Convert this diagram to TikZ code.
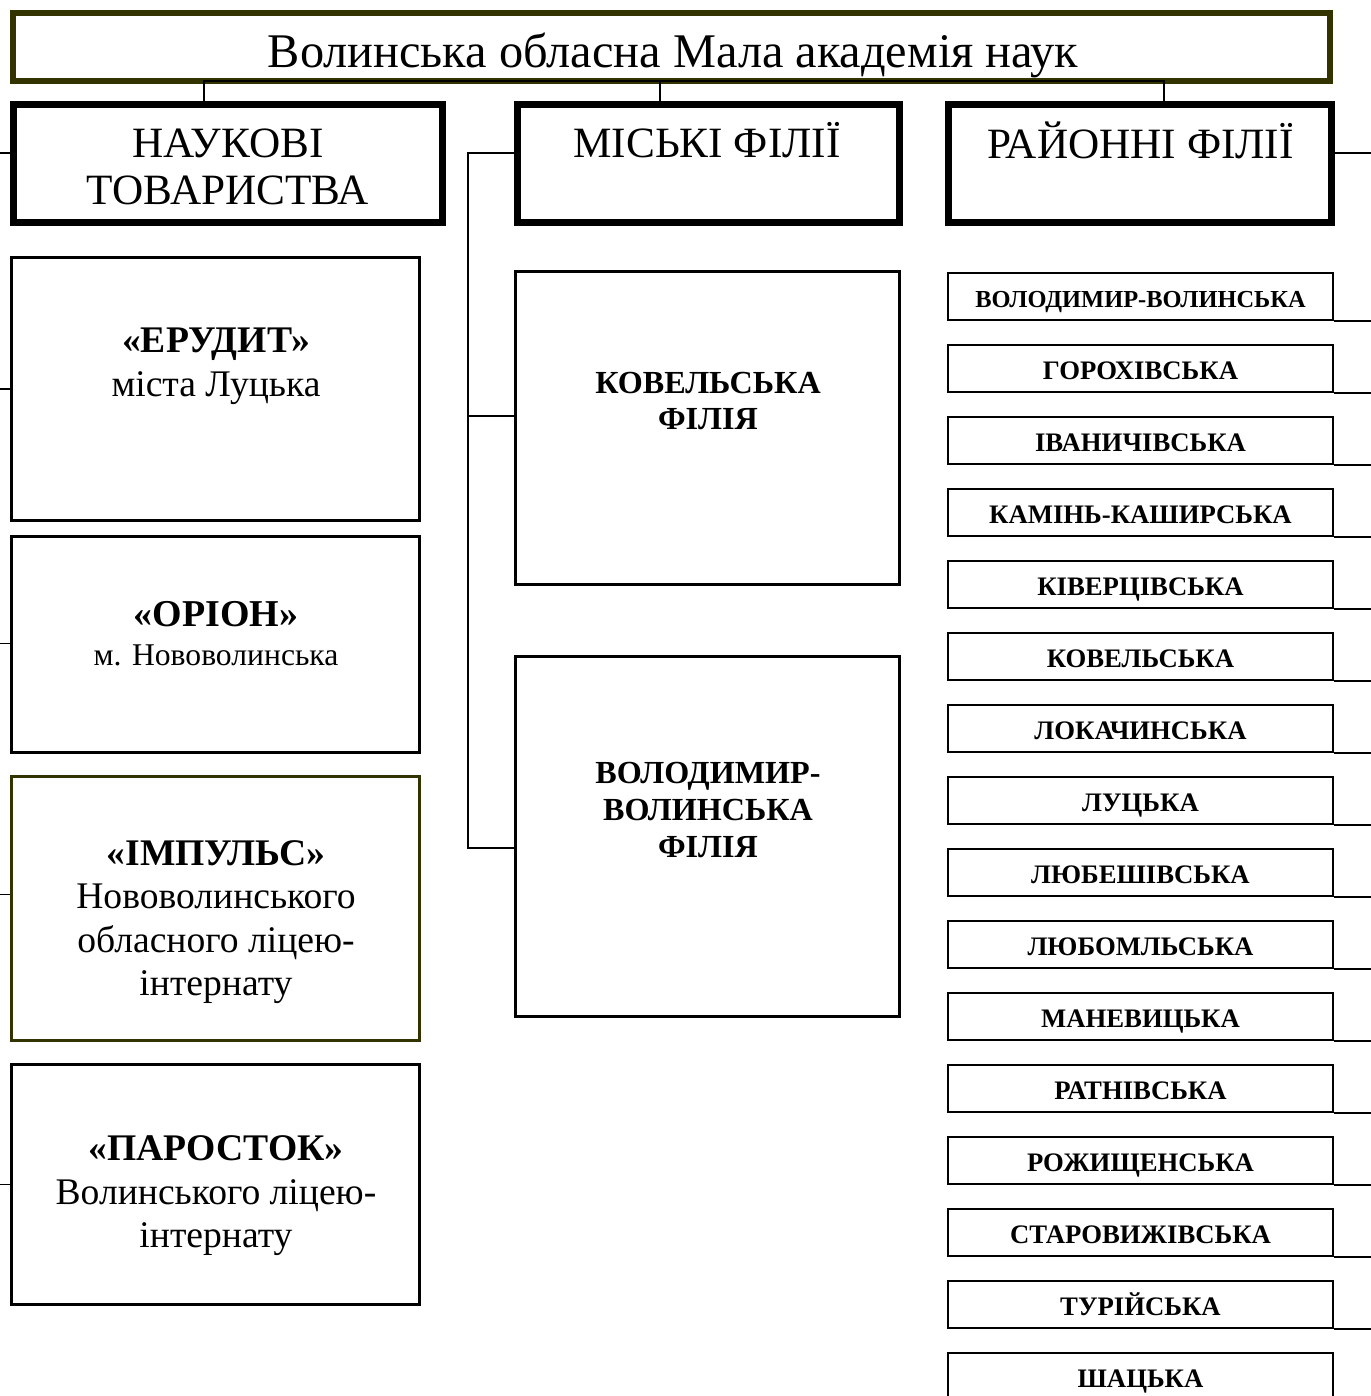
\documentclass[tikz,border=0pt]{standalone}
\usepackage{fontspec}
\setmainfont{Liberation Serif}
\usepackage{xcolor}
\definecolor{olivedark}{HTML}{333300}

\begin{document}
\begin{tikzpicture}[auto,
    link/.style={line width=0.45pt},
    titlebox/.style={draw=olivedark, line width=1.7pt, outer sep=0pt, inner sep=0pt,
      minimum width=13.17cm, minimum height=0.68cm},
    headbox/.style={draw, line width=2pt, inner sep=0pt, minimum height=1.18cm},
    socbox/.style={draw, line width=0.85pt, inner sep=0pt, minimum width=4.08cm},
    filbox/.style={draw, line width=0.85pt, inner sep=0pt, minimum width=3.84cm},
    district/.style={draw, line width=0.6pt, inner sep=0pt, minimum width=3.85cm,
      minimum height=0.47cm, text height=2.15mm, text depth=0pt,
      font=\bfseries\fontsize{7.6}{8}\selectfont},
    headtext/.style={align=center, inner sep=0pt, font=\fontsize{12.3}{13.4}\selectfont},
    soctext/.style={align=center, inner sep=0pt, font=\fontsize{10.7}{12.4}\selectfont},
    filtext/.style={align=center, inner sep=0pt, font=\bfseries\fontsize{9.15}{10.5}\selectfont}]
    \clip (0,0) rectangle (13.71,-13.96);
    \coordinate (le) at (0,0);
    \coordinate (re) at (13.71,0);
    \node[titlebox] (t) at (6.715,-0.47) {};
    \node[font=\fontsize{13.75}{15}\selectfont, inner sep=0pt] (tt) at (6.73,-0.55)
      {Волинська обласна Мала академія наук};
    \node[headbox, minimum width=4.29cm] (n) at (2.28,-1.635) {};
    \node[headbox, minimum width=3.82cm] (m) at (7.085,-1.635) {};
    \node[headbox, minimum width=3.83cm] (r) at (11.40,-1.635) {};
    \node[headtext] (nt) at (2.28,-1.67) {НАУКОВІ\\ТОВАРИСТВА};
    \node[headtext] (mt) at (7.07,-1.40) {МІСЬКІ ФІЛІЇ};
    \node[headtext] (rt) at (11.405,-1.40) {РАЙОННІ ФІЛІЇ};
    \node[socbox, minimum height=2.63cm] (e) at (2.155,-3.89) {};
    \node[socbox, minimum height=2.16cm] (o) at (2.155,-6.445) {};
    \node[socbox, draw=olivedark, minimum height=2.64cm] (i) at (2.155,-9.085) {};
    \node[socbox, minimum height=2.40cm] (p) at (2.155,-11.845) {};
    \node[soctext] (et) at (2.16,-3.66) {\textbf{«ЕРУДИТ»}\\міста Луцька};
    \node[soctext, font=\fontsize{9}{11.1}\selectfont] (ot) at (2.16,-6.34)
      {\textbf{\fontsize{10.8}{11.1}\selectfont«ОРІОН»}\\м. Нововолинська};
    \node[soctext] (it) at (2.16,-9.22)
      {\textbf{«ІМПУЛЬС»}\\Нововолинського\\обласного ліцею-\\інтернату};
    \node[soctext] (pt) at (2.16,-11.96) {\textbf{«ПАРОСТОК»}\\Волинського ліцею-\\інтернату};
    \node[filbox, minimum height=3.13cm] (k) at (7.075,-4.28) {};
    \node[filbox, minimum height=3.60cm] (v) at (7.075,-8.365) {};
    \node[filtext] (kt) at (7.08,-4.01) {КОВЕЛЬСЬКА\\ФІЛІЯ};
    \node[filtext] (vt) at (7.08,-8.10) {ВОЛОДИМИР-\\ВОЛИНСЬКА\\ФІЛІЯ};
    \node[district, font=\bfseries\fontsize{6.95}{8}\selectfont] (d0) at (11.405,-2.965)
      {ВОЛОДИМИР-ВОЛИНСЬКА};
    \foreach \name [count=\j from 1] in {ГОРОХІВСЬКА, ІВАНИЧІВСЬКА,
        КАМІНЬ-КАШИРСЬКА, КІВЕРЦІВСЬКА, КОВЕЛЬСЬКА, ЛОКАЧИНСЬКА, ЛУЦЬКА, ЛЮБЕШІВСЬКА,
        ЛЮБОМЛЬСЬКА, МАНЕВИЦЬКА, РАТНІВСЬКА, РОЖИЩЕНСЬКА, СТАРОВИЖІВСЬКА, ТУРІЙСЬКА, ШАЦЬКА}
      \node[district] (d\j) at (11.405,-2.965-0.72*\j) {\name};
    \draw [link] ([xshift=-2.4mm]n.north) |- ([xshift=2.4mm]r.north |- t.south) -- ([xshift=2.4mm]r.north);
    \draw [link] ([xshift=-4.85mm]m.north) -- ([xshift=-4.85mm]m.north |- t.south);
    \draw [link] ([yshift=1.05mm]m.west) -- ++(-0.46,0) |- ([yshift=-1.15mm]v.west);
    \draw [link] ([yshift=1.2mm]k.west) -- ++(-0.46,0);
    \draw [link] ([yshift=1.05mm]n.west) -- ([yshift=1.05mm]n.west -| le);
    \draw [link] (e.west) -- (e.west -| le);
    \draw [link] ([yshift=0.1mm]o.west) -- ([yshift=0.1mm]o.west -| le);
    \draw [link] ([yshift=1.4mm]i.west) -- ([yshift=1.4mm]i.west -| le);
    \draw [link] (p.west) -- (p.west -| le);
    \draw [link] ([yshift=1.05mm]r.east) -- ([yshift=1.05mm]r.east -| re);
    \foreach \j in {0,...,14}
      \draw [link] (d\j.south east) -- (d\j.south east -| re);
  \end{tikzpicture}
\end{document}
